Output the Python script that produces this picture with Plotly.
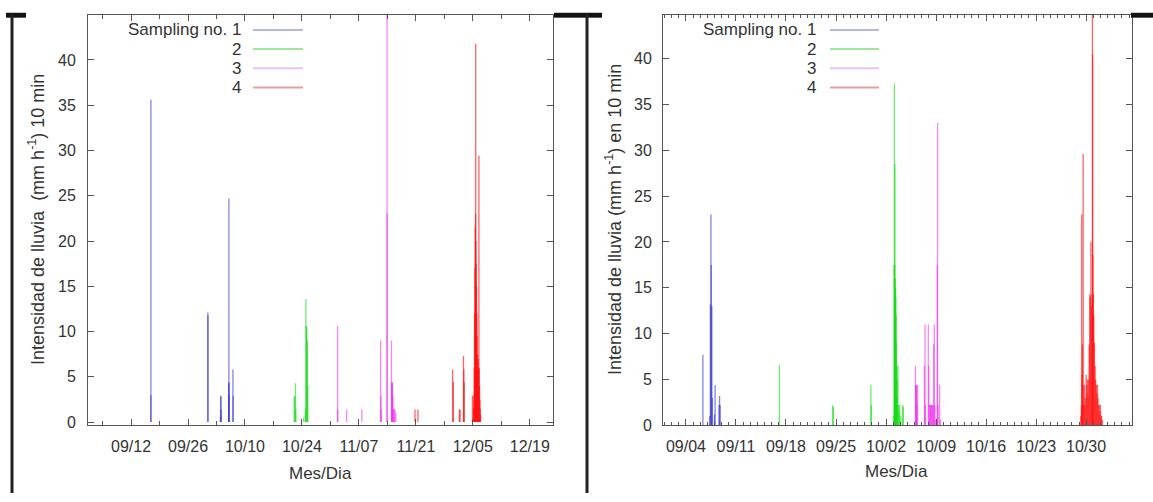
import plotly.graph_objects as go

W, H = 1153, 502

# ---------------- DATA ----------------
series_names = ["Sampling no. 1", "2", "3", "4"]
series_colors = ["rgba(50,50,210,0.6)", "rgba(17,216,17,0.6)",
                 "rgba(238,34,238,0.55)", "rgba(255,16,16,0.65)"]
legend_colors = ["#b4b4e6", "#9ee89e", "#e6c4ea", "#e4a0a0"]

# Left panel (first campaign)
L1_t = ["2014-09-16 21:00", "2014-09-16 21:10", "2014-09-30 21:00", "2014-09-30 21:30",
        "2014-10-03 23:00", "2014-10-04 01:00", "2014-10-04 02:00", "2014-10-04 03:00",
        "2014-10-06 00:00", "2014-10-06 01:00", "2014-10-06 01:30", "2014-10-06 02:00",
        "2014-10-07 01:00", "2014-10-07 02:00"]
L1_v = [3.0, 35.6, 12.1, 11.8, 0.6, 2.9, 2.8, 1.4, 4.4, 24.7, 4.3, 3.0, 5.8, 2.9]

L2_t = ["2014-10-22 02:00", "2014-10-22 06:00", "2014-10-22 10:00", "2014-10-22 12:00",
        "2014-10-24 10:00", "2014-10-24 20:00", "2014-10-24 23:00", "2014-10-25 02:00",
        "2014-10-25 05:00", "2014-10-25 08:00", "2014-10-25 11:00"]
L2_v = [2.8, 2.9, 4.3, 1.4, 0.5, 1.4, 13.6, 10.6, 10.5, 9.0, 4.0]

L3_t = ["2014-11-01 18:00", "2014-11-01 19:00", "2014-11-04 00:00", "2014-11-07 17:00",
        "2014-11-12 08:00", "2014-11-12 10:00", "2014-11-12 12:00", "2014-11-13 22:00",
        "2014-11-13 22:30", "2014-11-15 00:00", "2014-11-15 02:00", "2014-11-15 04:00",
        "2014-11-15 06:00", "2014-11-15 09:00", "2014-11-15 12:00", "2014-11-15 16:00",
        "2014-11-15 20:00", "2014-11-16 02:00"]
L3_v = [10.6, 1.4, 1.4, 1.4, 9.0, 2.9, 1.4, 46.0, 23.0, 9.0, 4.4, 4.3, 4.4, 2.9, 1.4, 1.5, 1.4, 1.0]

L4_t = ["2014-11-20 19:00", "2014-11-21 12:00", "2014-11-30 01:00", "2014-11-30 05:00",
        "2014-12-01 17:00", "2014-12-01 21:00", "2014-12-02 17:00", "2014-12-02 19:00",
        "2014-12-02 21:00", "2014-12-04 22:00",
        "2014-12-05 04:00", "2014-12-05 06:00", "2014-12-05 08:00", "2014-12-05 10:00",
        "2014-12-05 12:00", "2014-12-05 14:00", "2014-12-05 16:00", "2014-12-05 17:00",
        "2014-12-05 18:00", "2014-12-05 20:00", "2014-12-05 22:00", "2014-12-06 00:00",
        "2014-12-06 02:00", "2014-12-06 04:00", "2014-12-06 06:00", "2014-12-06 08:00",
        "2014-12-06 10:00", "2014-12-06 12:00", "2014-12-06 14:00", "2014-12-06 16:00",
        "2014-12-06 18:00", "2014-12-06 20:00", "2014-12-06 22:00"]
L4_v = [1.4, 1.4, 5.8, 4.4, 1.4, 1.4, 7.3, 5.8, 4.4, 2.9,
        1.5, 3.0, 6.0, 12.0, 17.0, 21.5, 23.0, 41.8, 20.0, 17.5, 15.0, 12.0,
        9.5, 7.5, 6.0, 7.0, 5.8, 29.4, 6.0, 4.0, 2.5, 1.5, 0.8]

# Right panel (second campaign)
R1_t = ["2015-09-06 09:00", "2015-09-07 08:00", "2015-09-07 10:00", "2015-09-07 12:00",
        "2015-09-07 13:00", "2015-09-07 15:00", "2015-09-07 17:00", "2015-09-08 00:00",
        "2015-09-08 02:00", "2015-09-08 15:00", "2015-09-08 17:00", "2015-09-08 19:00"]
R1_v = [7.7, 1.0, 13.2, 23.0, 17.5, 13.0, 3.0, 1.2, 4.4, 2.2, 3.2, 2.2]

R2_t = ["2015-09-17 02:00", "2015-09-24 13:00", "2015-09-24 15:00", "2015-09-29 21:00",
        "2015-09-29 23:00",
        "2015-10-03 02:00", "2015-10-03 03:00", "2015-10-03 04:00", "2015-10-03 05:00",
        "2015-10-03 06:00", "2015-10-03 07:00", "2015-10-03 08:00", "2015-10-03 09:00",
        "2015-10-03 10:00", "2015-10-03 11:00", "2015-10-03 12:00", "2015-10-03 13:00",
        "2015-10-03 14:00", "2015-10-03 16:00", "2015-10-03 18:00", "2015-10-03 20:00",
        "2015-10-03 22:00", "2015-10-04 02:00", "2015-10-04 08:00", "2015-10-04 10:00"]
R2_v = [6.6, 2.2, 2.0, 4.4, 2.2,
        1.0, 17.5, 37.3, 17.5, 28.5, 16.0, 15.0, 14.0, 12.0, 9.0, 6.5, 5.0,
        3.0, 6.5, 2.2, 1.5, 2.2, 1.0, 2.2, 2.0]

R3_t = ["2015-10-06 03:00", "2015-10-06 04:00", "2015-10-06 05:00", "2015-10-06 06:00",
        "2015-10-06 08:00", "2015-10-06 10:00", "2015-10-07 09:00", "2015-10-07 11:00",
        "2015-10-07 12:00", "2015-10-07 22:00", "2015-10-08 00:00", "2015-10-08 02:00",
        "2015-10-08 04:00", "2015-10-08 06:00", "2015-10-08 08:00", "2015-10-08 10:00",
        "2015-10-08 12:00", "2015-10-08 14:00", "2015-10-08 16:00", "2015-10-08 18:00",
        "2015-10-08 20:00", "2015-10-08 22:00", "2015-10-09 04:00", "2015-10-09 05:00",
        "2015-10-09 07:00", "2015-10-09 12:00", "2015-10-09 14:00"]
R3_v = [6.5, 4.4, 4.4, 4.3, 2.2, 4.4, 6.5, 11.0, 2.2, 11.0, 6.5, 2.2,
        2.2, 2.2, 2.2, 2.2, 2.2, 2.2, 8.8, 11.0, 2.2, 0.6, 17.5, 33.0,
        2.2, 4.4, 0.6]

R4_t = ["2015-10-29 06:00", "2015-10-29 08:00", "2015-10-29 09:00", "2015-10-29 10:00",
        "2015-10-29 12:00", "2015-10-29 13:00", "2015-10-29 14:00", "2015-10-29 16:00",
        "2015-10-29 18:00", "2015-10-29 20:00", "2015-10-29 22:00", "2015-10-30 00:00",
        "2015-10-30 02:00", "2015-10-30 04:00", "2015-10-30 06:00", "2015-10-30 08:00",
        "2015-10-30 10:00", "2015-10-30 12:00", "2015-10-30 14:00", "2015-10-30 16:00",
        "2015-10-30 18:00", "2015-10-30 20:00", "2015-10-30 21:00", "2015-10-30 22:00",
        "2015-10-30 23:00", "2015-10-31 00:00", "2015-10-31 02:00", "2015-10-31 04:00",
        "2015-10-31 06:00", "2015-10-31 08:00", "2015-10-31 10:00", "2015-10-31 12:00",
        "2015-10-31 14:00", "2015-10-31 16:00", "2015-10-31 18:00", "2015-10-31 20:00",
        "2015-10-31 22:00", "2015-11-01 00:00", "2015-11-01 02:00", "2015-11-01 04:00",
        "2015-11-01 06:00"]
R4_v = [1.0, 2.2, 23.0, 5.5, 8.8, 4.4, 29.6, 2.2, 4.4, 2.2, 3.0, 5.5,
        4.4, 5.0, 3.3, 5.0, 8.8, 14.3, 14.0, 20.0, 13.0, 14.3, 46.0, 40.5,
        18.6, 14.3, 12.0, 9.0, 6.5, 5.0, 4.4, 3.5, 4.4, 3.0, 2.2, 2.2,
        1.5, 2.2, 1.1, 1.0, 0.6]

left_series = [(L1_t, L1_v), (L2_t, L2_v), (L3_t, L3_v), (L4_t, L4_v)]
right_series = [(R1_t, R1_v), (R2_t, R2_v), (R3_t, R3_v), (R4_t, R4_v)]

y_ticks = [0, 5, 10, 15, 20, 25, 30, 35, 40]
left_xtick0 = "2014-09-12"
right_xtick0 = "2015-09-04"
left_xrange = ["2014-09-01 10:00", "2014-12-24 17:00"]
right_xrange = ["2015-08-31 19:00", "2015-11-05 10:00"]

ytitle_left = "Intensidad de lluvia  (mm h<sup>-1</sup>) 10 min"
ytitle_right = "Intensidad de lluvia (mm h<sup>-1</sup>) en 10 min"
xtitle = "Mes/Dia"

# ---------------- FIGURE ----------------
def px(x):
    return x / W

def py(y):
    return 1 - y / H

DAY = 86400000
FONT = "Liberation Sans, Arial, sans-serif"
FS = 16
TXT = "#333333"

fig = go.Figure()

# each impulse is its own path so that dense bursts saturate like the original
for panel, (xa, ya) in [(left_series, ("x", "y")), (right_series, ("x2", "y2"))]:
    for k, (t, v) in enumerate(panel):
        for ti, vi in zip(t, v):
            fig.add_trace(go.Scatter(x=[ti, ti], y=[0, vi], mode="lines",
                                     xaxis=xa, yaxis=ya,
                                     line=dict(color=series_colors[k], width=1.3),
                                     name=series_names[k], showlegend=False,
                                     hoverinfo="skip"))

axis_common = dict(showline=True, linecolor="#555555", linewidth=1, mirror="ticks",
                   ticks="inside", tickcolor="#555555", showgrid=False, zeroline=False,
                   tickfont=dict(family=FONT, size=FS, color=TXT))

fig.update_layout(
    width=W, height=H, autosize=False,
    margin=dict(l=0, r=0, t=0, b=0),
    paper_bgcolor="white", plot_bgcolor="white",
    showlegend=False,
    xaxis=dict(domain=[px(88), px(553)], anchor="y", type="date", range=left_xrange,
               tick0=left_xtick0, dtick=14 * DAY, tickformat="%m/%d", ticklen=6,
               ticklabelstandoff=7,
               minor=dict(dtick=7 * DAY, tick0=left_xtick0, ticks="inside", ticklen=4,
                          tickcolor="#555555"),
               **axis_common),
    yaxis=dict(domain=[py(433), py(15)], anchor="x", range=[-0.35, 45],
               tickvals=y_ticks, ticklen=6, ticklabelstandoff=8, **axis_common),
    xaxis2=dict(domain=[px(663), px(1132)], anchor="y2", type="date", range=right_xrange,
                tick0=right_xtick0, dtick=7 * DAY, tickformat="%m/%d", ticklen=6,
                ticklabelstandoff=7,
                minor=dict(dtick=DAY, tick0=right_xtick0, ticks="inside", ticklen=3,
                           tickcolor="#555555"),
                **axis_common),
    yaxis2=dict(domain=[py(433), py(15)], anchor="x2", range=[0, 44.8],
                tickvals=y_ticks, ticklen=6, ticklabelstandoff=7, **axis_common),
)

annotations = []
shapes = []

# axis titles
annotations.append(dict(x=px(37), y=py(224), xref="paper", yref="paper", text=ytitle_left,
                        textangle=-90, showarrow=False, xanchor="center", yanchor="middle",
                        font=dict(family=FONT, size=18, color=TXT)))
annotations.append(dict(x=px(614), y=py(224), xref="paper", yref="paper", text=ytitle_right,
                        textangle=-90, showarrow=False, xanchor="center", yanchor="middle",
                        font=dict(family=FONT, size=18, color=TXT)))
annotations.append(dict(x=px(320), y=py(482), xref="paper", yref="paper", text=xtitle,
                        showarrow=False, xanchor="center", yanchor="middle",
                        font=dict(family=FONT, size=17, color=TXT)))
annotations.append(dict(x=px(896), y=py(480), xref="paper", yref="paper", text=xtitle,
                        showarrow=False, xanchor="center", yanchor="middle",
                        font=dict(family=FONT, size=17, color=TXT)))

# manual gnuplot-style keys
key_rows = [30.5, 50, 69.5, 89]
for (text_right, line_x0, line_x1) in [(243, 253, 303), (818, 830, 879)]:
    for k, yy in enumerate(key_rows):
        annotations.append(dict(x=px(text_right), y=py(yy), xref="paper", yref="paper",
                                text=series_names[k], showarrow=False, xanchor="right",
                                yanchor="middle",
                                font=dict(family=FONT, size=17, color=TXT)))
        shapes.append(dict(type="line", xref="paper", yref="paper",
                           x0=px(line_x0), x1=px(line_x1), y0=py(yy), y1=py(yy),
                           line=dict(color=legend_colors[k], width=2)))

# black frame fragments of the screenshot
for (x0, x1) in [(6, 26), (554, 580), (580, 602), (1131, 1153)]:
    shapes.append(dict(type="rect", xref="paper", yref="paper", x0=px(x0), x1=px(x1),
                       y0=py(18), y1=py(13), fillcolor="#111111", line=dict(width=0)))
for xv in [12, 587]:
    shapes.append(dict(type="line", xref="paper", yref="paper", x0=px(xv), x1=px(xv),
                       y0=py(14), y1=py(502), line=dict(color="#222222", width=3)))

fig.update_layout(annotations=annotations, shapes=shapes)

fig.write_html("out.html")
